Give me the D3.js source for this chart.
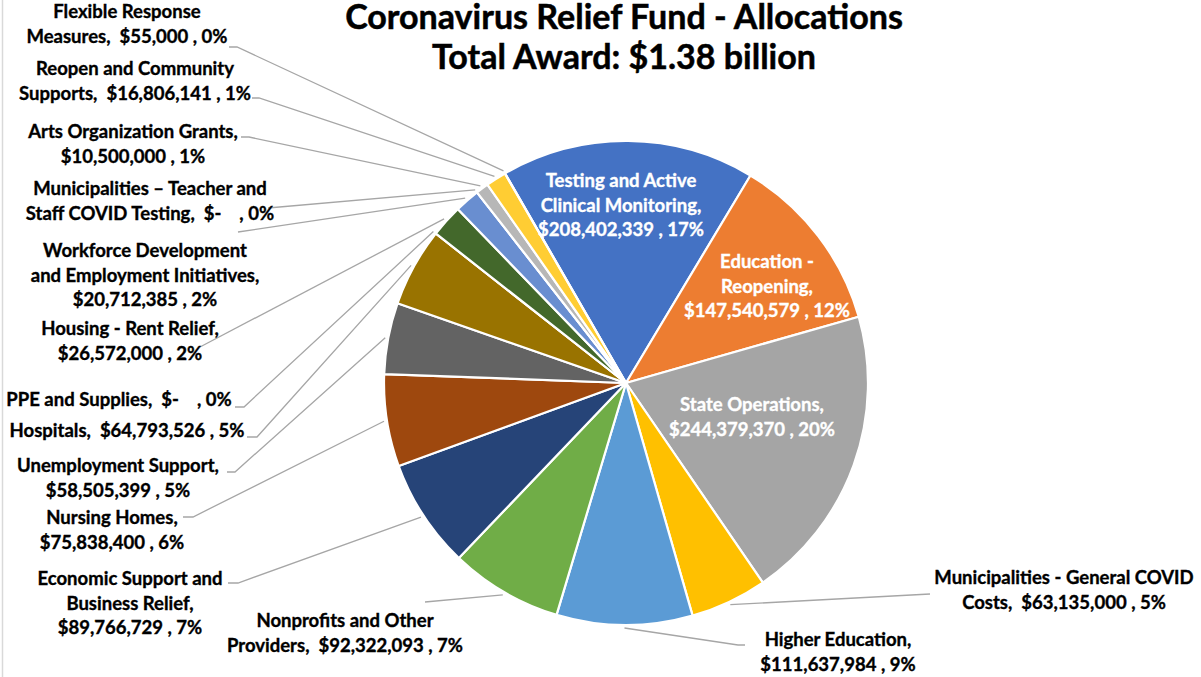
<!DOCTYPE html>
<html>
<head>
<meta charset="utf-8">
<script src="https://cdn.jsdelivr.net/npm/d3@7"></script>
<style>
  body { margin: 0; background: #fff; }
  svg { display: block; }
  text { font-family: Lato, "Open Sans", sans-serif; font-weight: bold; white-space: pre; }
</style>
</head>
<body>
<script>
// Slice data, in drawing order (clockwise from the Testing slice)
var categories = [
  "Testing and Active Clinical Monitoring",
  "Education - Reopening",
  "State Operations",
  "Municipalities - General COVID Costs",
  "Higher Education",
  "Nonprofits and Other Providers",
  "Economic Support and Business Relief",
  "Nursing Homes",
  "Unemployment Support",
  "Hospitals",
  "PPE and Supplies",
  "Housing - Rent Relief",
  "Workforce Development and Employment Initiatives",
  "Municipalities \u2013 Teacher and Staff COVID Testing",
  "Arts Organization Grants",
  "Reopen and Community Supports",
  "Flexible Response Measures"
];
var values = [
  208402339, 147540579, 244379370, 63135000, 111637984, 92322093, 89766729,
  75838400, 58505399, 64793526, 0, 26572000, 20712385, 0, 10500000, 16806141, 55000
];
var colors = [
  "#4472C4", "#ED7D31", "#A5A5A5", "#FFC000", "#5B9BD5", "#70AD47", "#264478",
  "#9E480E", "#636363", "#997300", "#255E91", "#43682B", "#698ED0", "#F1975A",
  "#B7B7B7", "#FFCD33", "#7CAFDD"
];
var titleLines = ["Coronavirus Relief Fund - Allocations", "Total Award: $1.38 billion"];

// label layout: wrap = word index in the name where a new line starts,
// money = start the amount on its own line, x/y = first baseline (centre),
// from = leader start point, stub = short horizontal piece of the leader
var labelLayout = [
  {inside: true, wrap: [3], money: true, x: 621, y: 187},
  {inside: true, wrap: [2], money: true, x: 767, y: 268},
  {inside: true, wrap: [], money: true, x: 752, y: 411},
  {wrap: [4], money: false, x: 1064, y: 584, from: [930, 594], stub: 0},
  {wrap: [], money: true, x: 838, y: 646, from: [745, 645], stub: -7},
  {wrap: [3], money: false, x: 345, y: 627, from: [425, 602], stub: 0},
  {wrap: [3], money: true, x: 130, y: 585, from: [228, 583], stub: 10},
  {wrap: [], money: true, x: 112, y: 524, from: [183, 517], stub: 10},
  {wrap: [], money: true, x: 118, y: 472, from: [227, 472], stub: 8},
  {wrap: [], money: false, x: 127, y: 437, from: [247, 437], stub: 10},
  {wrap: [], money: false, x: 119, y: 406, from: [235, 407], stub: 9},
  {wrap: [], money: true, x: 130, y: 335, from: [200, 347], stub: 0},
  {wrap: [2], money: true, x: 145, y: 257, from: [238, 232], stub: 0},
  {wrap: [4], money: false, x: 150, y: 195, from: [268, 208], stub: 0},
  {wrap: [], money: true, x: 133, y: 138, from: [241, 137], stub: 8},
  {wrap: [3], money: false, x: 135, y: 75, from: [252, 98], stub: 7},
  {wrap: [2], money: false, x: 127, y: 18, from: [229, 47], stub: 8}
];

var width = 1201, height = 677;
var cx = 626, cy = 383, radius = 242;
var lineH = 24.5;

var svg = d3.select("body").append("svg")
    .attr("width", width)
    .attr("height", height);

// pick font sizes so that text widths match the original chart
function fitSize(str, target) {
  var t = svg.append("text").style("font-size", "20px").text(str);
  var w = t.node().getComputedTextLength();
  t.remove();
  return 20 * target / w;
}
var titleSize = fitSize(titleLines[0], 558);
var labelSize = fitSize("Supports,  $16,806,141 , 1%", 232);

// chart border (only the left edge is inside the window)
svg.append("rect")
    .attr("x", 2.5).attr("y", -10)
    .attr("width", width + 20).attr("height", height + 20)
    .attr("fill", "none")
    .attr("stroke", "#D9D9D9")
    .attr("stroke-width", 1.5);

// title
svg.append("g").selectAll("text")
    .data(titleLines)
    .enter().append("text")
    .attr("x", 624)
    .attr("y", (d, i) => 29 + i * 40)
    .attr("text-anchor", "middle")
    .style("font-size", titleSize + "px")
    .style("fill", "#000")
    .style("stroke", "#000")
    .style("stroke-width", 0.5)
    .text(d => d);

var total = d3.sum(values);
var rows = categories.map((c, i) => ({name: c, value: values[i], color: colors[i], layout: labelLayout[i]}));

var pie = d3.pie()
    .sort(null)
    .value(d => d.value)
    .startAngle(-30 * Math.PI / 180)
    .endAngle(330 * Math.PI / 180);

var arc = d3.arc().innerRadius(0).outerRadius(radius);
var edgeArc = d3.arc().innerRadius(radius + 3).outerRadius(radius + 3);

var arcs = pie(rows);

var g = svg.append("g").attr("transform", "translate(" + cx + "," + cy + ")");

g.selectAll("path.slice")
    .data(arcs)
    .enter().append("path")
    .attr("class", "slice")
    .attr("d", arc)
    .attr("fill", d => d.data.color)
    .attr("stroke", "#fff")
    .attr("stroke-width", 2.2)
    .attr("stroke-linejoin", "round");

function money(v) {
  return v === 0 ? "$-   " : "$" + d3.format(",")(v);
}

function labelLines(d) {
  var lay = d.data.layout;
  var words = d.data.name.split(" ");
  var lines = [], cur = [];
  words.forEach((w, i) => {
    if (lay.wrap.indexOf(i) >= 0) { lines.push(cur.join(" ")); cur = []; }
    cur.push(w);
  });
  var pct = Math.round(d.data.value / total * 100) + "%";
  var tail = money(d.data.value) + " , " + pct;
  if (lay.money) {
    lines.push(cur.join(" ") + ",");
    lines.push(tail);
  } else {
    lines.push(cur.join(" ") + ",  " + tail);
  }
  return lines;
}

// leader lines
var outside = arcs.filter(d => !d.data.layout.inside);
g.selectAll("polyline.leader")
    .data(outside)
    .enter().append("polyline")
    .attr("class", "leader")
    .attr("fill", "none")
    .attr("stroke", "#A6A6A6")
    .attr("stroke-width", 1.3)
    .attr("points", d => {
      var lay = d.data.layout;
      var p0 = [lay.from[0] - cx, lay.from[1] - cy];
      var p1 = [p0[0] + lay.stub, p0[1]];
      var p2 = edgeArc.centroid(d);
      return [p0, p1, p2].map(p => p.join(",")).join(" ");
    });

// labels
var labels = svg.append("g").selectAll("text.label")
    .data(arcs)
    .enter().append("text")
    .attr("class", "label")
    .attr("text-anchor", "middle")
    .style("font-size", labelSize + "px")
    .style("fill", d => d.data.layout.inside ? "#fff" : "#000")
    .style("stroke", d => d.data.layout.inside ? "#fff" : "#000")
    .style("stroke-width", 0.35);

labels.each(function(d) {
  var lay = d.data.layout;
  d3.select(this).selectAll("tspan")
    .data(labelLines(d))
    .enter().append("tspan")
    .attr("x", lay.x)
    .attr("y", (t, i) => lay.y + i * lineH)
    .text(t => t);
});
</script>
</body>
</html>
